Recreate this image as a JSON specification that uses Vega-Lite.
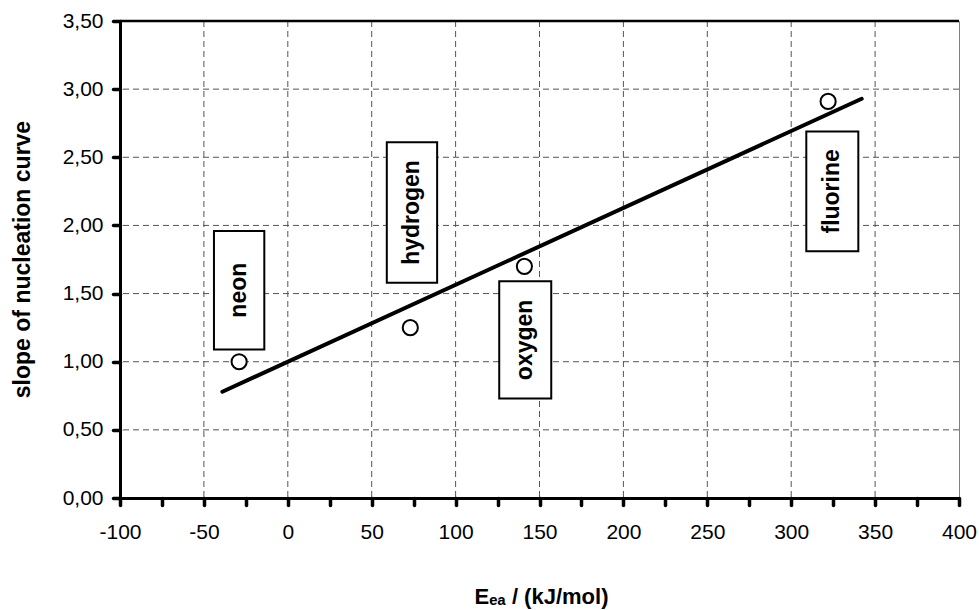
{
  "$schema": "https://vega.github.io/schema/vega-lite/v6.json",
  "width": 839,
  "height": 477,
  "autosize": {"type": "none"},
  "padding": {"left": 120, "top": 21, "right": 20, "bottom": 112},
  "background": "white",
  "config": {
    "view": {"stroke": "#808080", "strokeWidth": 1},
    "font": "Liberation Sans",
    "axis": {
      "labelColor": "black",
      "labelFont": "Liberation Sans",
      "labelFontSize": 21,
      "titleFont": "Liberation Sans",
      "titleFontWeight": "bold",
      "titleColor": "black"
    }
  },
  "datasets": {
    "points": [
      {"element": "neon", "ea": -29, "slope": 1.0},
      {"element": "hydrogen", "ea": 73, "slope": 1.25},
      {"element": "oxygen", "ea": 141, "slope": 1.7},
      {"element": "fluorine", "ea": 322, "slope": 2.91}
    ],
    "labels": [
      {"element": "neon", "x1": -44, "x2": -14, "y1": 1.09, "y2": 1.96, "xm": -29, "ym": 1.525},
      {"element": "hydrogen", "x1": 59, "x2": 89, "y1": 1.58, "y2": 2.61, "xm": 74, "ym": 2.095},
      {"element": "oxygen", "x1": 126, "x2": 157, "y1": 0.73, "y2": 1.59, "xm": 141.5, "ym": 1.16},
      {"element": "fluorine", "x1": 309, "x2": 340, "y1": 1.81, "y2": 2.69, "xm": 324.5, "ym": 2.25}
    ],
    "xgrid": [{"v": -50}, {"v": 0}, {"v": 50}, {"v": 100}, {"v": 150}, {"v": 200}, {"v": 250}, {"v": 300}, {"v": 350}],
    "ygrid": [{"v": 0.5}, {"v": 1.0}, {"v": 1.5}, {"v": 2.0}, {"v": 2.5}, {"v": 3.0}],
    "top": [{"edge": 3.5}]
  },
  "layer": [
    {
      "data": {"name": "points"},
      "mark": {"type": "point", "opacity": 0},
      "encoding": {
        "x": {
          "field": "ea",
          "type": "quantitative",
          "title": "Eₑₐ / (kJ/mol)",
          "scale": {"domain": [-100, 400], "nice": false, "zero": false},
          "axis": {
            "values": [-100, -75, -50, -25, 0, 25, 50, 75, 100, 125, 150, 175, 200, 225, 250, 275, 300, 325, 350, 375, 400],
            "labelExpr": "datum.value % 50 == 0 ? '' + datum.value : ''",
            "labelPadding": 16,
            "labelBaseline": "top",
            "labelFlush": false,
            "labelOverlap": false,
            "domainWidth": 3,
            "domainColor": "black",
            "tickWidth": 3.5,
            "tickSize": 7,
            "tickColor": "black",
            "tickCap": "round",
            "grid": false,
            "titleFontSize": 22,
            "titleX": 421,
            "titleY": 98,
            "titleBaseline": "middle",
            "titleAlign": "center"
          }
        },
        "y": {
          "field": "slope",
          "type": "quantitative",
          "title": "slope of nucleation curve",
          "scale": {"domain": [0, 3.5], "nice": false, "zero": true},
          "axis": {
            "values": [0, 0.25, 0.5, 0.75, 1, 1.25, 1.5, 1.75, 2, 2.25, 2.5, 2.75, 3, 3.25, 3.5],
            "labelExpr": "datum.value % 0.5 == 0 ? replace(format(datum.value, '.2f'), '.', ',') : ''",
            "labelPadding": 10,
            "labelFlush": false,
            "labelOverlap": false,
            "domainWidth": 3,
            "domainColor": "black",
            "tickWidth": 3.5,
            "tickSize": 7,
            "tickColor": "black",
            "tickCap": "round",
            "grid": false,
            "titleFontSize": 23,
            "titleAngle": 270,
            "titleX": -98,
            "titleY": 238,
            "titleBaseline": "middle",
            "titleAlign": "center"
          }
        }
      }
    },
    {
      "data": {"name": "xgrid"},
      "mark": {"type": "rule", "color": "#555555", "strokeWidth": 1, "strokeDash": [6, 4]},
      "encoding": {"x": {"field": "v", "type": "quantitative", "title": "Eₑₐ / (kJ/mol)"}}
    },
    {
      "data": {"name": "ygrid"},
      "mark": {"type": "rule", "color": "#555555", "strokeWidth": 1, "strokeDash": [6, 4]},
      "encoding": {"y": {"field": "v", "type": "quantitative", "title": "slope of nucleation curve"}}
    },
    {
      "data": {"name": "top"},
      "mark": {"type": "rule", "color": "black", "strokeWidth": 2.5},
      "encoding": {"y": {"field": "edge", "type": "quantitative", "title": "slope of nucleation curve"}}
    },
    {
      "data": {"name": "labels"},
      "mark": {"type": "rect", "fill": "white", "stroke": "black", "strokeWidth": 2},
      "encoding": {
        "x": {"field": "x1", "type": "quantitative", "title": "Eₑₐ / (kJ/mol)"},
        "x2": {"field": "x2"},
        "y": {"field": "y1", "type": "quantitative", "title": "slope of nucleation curve"},
        "y2": {"field": "y2"}
      }
    },
    {
      "data": {"name": "labels"},
      "mark": {"type": "text", "angle": 270, "align": "center", "baseline": "middle", "font": "Liberation Sans", "fontSize": 23, "fontWeight": "bold", "color": "black"},
      "encoding": {
        "x": {"field": "xm", "type": "quantitative", "title": "Eₑₐ / (kJ/mol)"},
        "y": {"field": "ym", "type": "quantitative", "title": "slope of nucleation curve"},
        "text": {"field": "element"}
      }
    },
    {
      "data": {"name": "points"},
      "transform": [{"regression": "slope", "on": "ea", "method": "linear", "extent": [-39, 342]}],
      "mark": {"type": "line", "color": "black", "strokeWidth": 4, "strokeCap": "round"},
      "encoding": {
        "x": {"field": "ea", "type": "quantitative", "title": "Eₑₐ / (kJ/mol)"},
        "y": {"field": "slope", "type": "quantitative", "title": "slope of nucleation curve"}
      }
    },
    {
      "data": {"name": "points"},
      "mark": {"type": "point", "shape": "circle", "size": 230, "filled": false, "fill": "white", "fillOpacity": 1, "stroke": "black", "strokeWidth": 2, "opacity": 1},
      "encoding": {
        "x": {"field": "ea", "type": "quantitative", "title": "Eₑₐ / (kJ/mol)"},
        "y": {"field": "slope", "type": "quantitative", "title": "slope of nucleation curve"}
      }
    }
  ]
}
